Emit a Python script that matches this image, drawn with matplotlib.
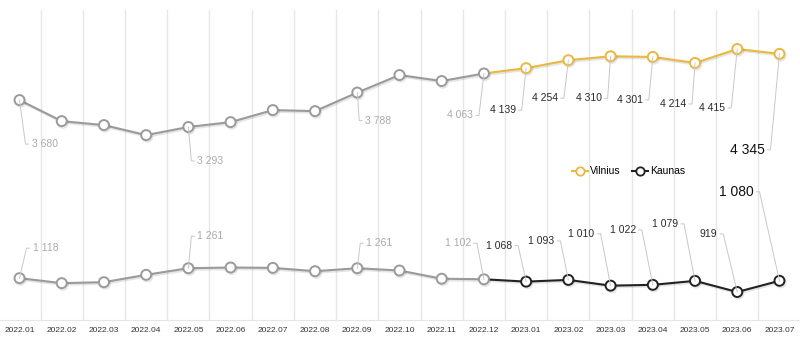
import matplotlib
matplotlib.use('Agg')
from matplotlib import pyplot as plt
from matplotlib.lines import Line2D
from matplotlib.transforms import IdentityTransform
import matplotlib.patheffects as pe

plt.rcParams['font.family'] = ['Liberation Sans', 'DejaVu Sans']

months = ['2022.01', '2022.02', '2022.03', '2022.04', '2022.05', '2022.06', '2022.07',
          '2022.08', '2022.09', '2022.10', '2022.11', '2022.12', '2023.01', '2023.02',
          '2023.03', '2023.04', '2023.05', '2023.06', '2023.07']
vilnius = [3680, 3377, 3320, 3176, 3293, 3363, 3536, 3521, 3788, 4040, 3954, 4063,
           4139, 4254, 4310, 4301, 4214, 4415, 4345]
kaunas = [1118, 1046, 1060, 1166, 1261, 1271, 1266, 1218, 1261, 1228, 1110, 1102,
          1068, 1093, 1010, 1022, 1079, 919, 1080]

# which points get a label, and where the leader bends (pixels, y down)
vil_labels = {0: (6, 44), 4: (3, 34), 8: (2, 28), 11: (-5, 42), 12: (-4.5, 42),
              13: (-4.5, 38), 14: (-3, 42), 15: (-4, 43), 16: (-3, 41), 17: (-6, 59),
              18: (-9, 96)}
kau_labels = {0: (7, -30), 4: (3, -32), 8: (3, -25), 11: (-7, -36), 12: (-8, -36),
              13: (-8, -39), 14: (-10, -52), 15: (-11, -55), 16: (-11, -57),
              17: (-14, -58), 18: (-20, -89)}

gray = '#9a9a9a'
gold = '#e8b840'
dark = '#222222'
split = 11  # 2022.12

fig = plt.figure(figsize=(8, 3.42), dpi=100)
ax = fig.add_axes([0, 22 / 342, 1, 310 / 342])
x = list(range(len(months)))

shadow = [pe.SimpleLineShadow(offset=(0.8, -1.2), shadow_color='k', alpha=0.1), pe.Normal()]
mk = dict(marker='o', markersize=7.2, markerfacecolor='white', markeredgewidth=1.4, lw=1.5)

ax.plot(x[:split + 1], vilnius[:split + 1], color=gray, zorder=4, path_effects=shadow, **mk)
ax.plot(x[split:], vilnius[split:], color=gold, zorder=3, markevery=slice(1, None),
        path_effects=shadow, **mk)
ax.plot(x[:split + 1], kaunas[:split + 1], color=gray, zorder=4, path_effects=shadow, **mk)
ax.plot(x[split:], kaunas[split:], color=dark, zorder=3, markevery=slice(1, None),
        path_effects=shadow, **mk)

ax.set_xlim(-0.462, 18.486)
ax.set_ylim(516, 4976)
ax.set_yticks([])
ax.set_xticks(x, months, fontsize=6, color='#333333')
ax.set_xticks([i + 0.5 for i in x[:-1]], minor=True)
ax.tick_params(axis='x', which='both', length=0, pad=5)
ax.grid(which='minor', axis='x', color='#e6e6e6', lw=1, zorder=0)
for s in ['top', 'left', 'right']:
    ax.spines[s].set_visible(False)
ax.spines['bottom'].set_color('#e6e6e6')

handles = [Line2D([], [], color=gold, marker='o', markersize=6, markerfacecolor='white',
                  markeredgewidth=1.3, lw=1.5),
           Line2D([], [], color=dark, marker='o', markersize=6, markerfacecolor='white',
                  markeredgewidth=1.3, lw=1.5)]
ax.legend(handles, ['Vilnius', 'Kaunas'], loc='center', bbox_to_anchor=(0.786, 0.48),
          ncol=2, frameon=False, fontsize=7.5, handlelength=1.5, handletextpad=0.2,
          columnspacing=1.1)


def label_points(values, spots):
    for i, (dx, dy) in spots.items():
        px, py = ax.transData.transform((i, values[i]))
        ex, ey = px + dx, py - dy
        side = 1 if dx > 0 else -1
        tx = ex + 3 * side
        fig.add_artist(Line2D([px, ex, tx], [py, ey, ey], transform=IdentityTransform(),
                              color='#c8c8c8', lw=0.7, zorder=5))
        if i == len(values) - 1:
            color, size = '#111111', 10
        elif i <= split:
            color, size = '#aaaaaa', 7.5
        else:
            color, size = '#2a2a2a', 7.5
        fig.text(tx + 3 * side, ey, f'{values[i]:,}'.replace(',', ' '),
                 transform=IdentityTransform(), ha='left' if side > 0 else 'right',
                 va='center', fontsize=size, color=color)


label_points(vilnius, vil_labels)
label_points(kaunas, kau_labels)

plt.savefig('out.png', dpi=100)
